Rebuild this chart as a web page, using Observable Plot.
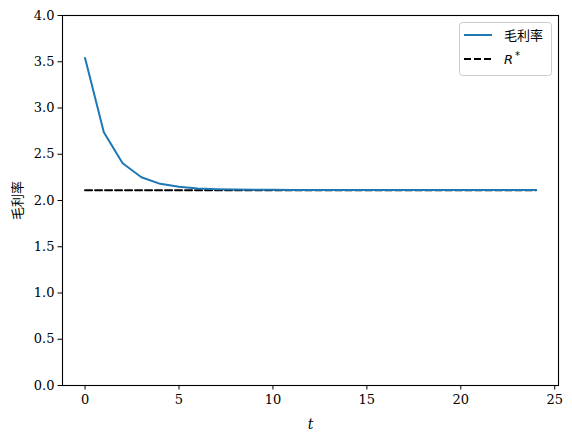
<!DOCTYPE html>
<html><head><meta charset="utf-8">
<script src="https://cdn.jsdelivr.net/npm/d3@7"></script>
<script src="https://cdn.jsdelivr.net/npm/@observablehq/plot@0.6"></script>
<style>
body{margin:0;background:#fff}
#wrap{position:relative;width:572px;height:442px}
#legend{position:absolute;left:0;top:0;pointer-events:none}
</style></head><body><div id="wrap"></div>
<script>
const periods = [0,1,2,3,4,5,6,7,8,9,10,11,12,13,14,15,16,17,18,19,20,21,22,23,24];
const grossMargin = [3.54,2.738,2.403,2.252,2.18,2.148,2.13,2.122,2.118,2.116,2.115,2.114,2.114,2.114,2.114,2.114,2.114,2.114,2.114,2.114,2.114,2.114,2.114,2.114,2.114];
const rStar = 2.11;
const xTicks = [0,5,10,15,20,25];
const yTicks = [0,0.5,1,1.5,2,2.5,3,3.5,4];
const seriesNames = ["毛利率","R*"];

const data = periods.map((t,i)=>({t, v: grossMargin[i]}));
const rData = periods.map(t=>({t, v: rStar}));

const chart = Plot.plot({
  width:572, height:442, marginLeft:62, marginRight:14, marginTop:15, marginBottom:57,
  style:{fontFamily:"DejaVu Serif", fontSize:"13px", color:"#000", background:"#fff"},
  x:{domain:[-1.2,25.2]},
  y:{domain:[0,4]},
  marks:[
    Plot.axisX({ticks:xTicks, tickSize:4.5, tickPadding:5, tickFormat:d=>String(d), label:null}),
    Plot.axisY({ticks:yTicks, tickSize:4.5, tickPadding:3.5, tickFormat:d=>d.toFixed(1), label:null}),
    Plot.line(rData, {x:"t", y:"v", stroke:"#000", strokeWidth:2, strokeDasharray:"7,3"}),
    Plot.line(data, {x:"t", y:"v", stroke:"#1f77b4", strokeWidth:2}),
    Plot.frame({stroke:"#000", strokeWidth:1.1}),
    Plot.text(["t"], {frameAnchor:"bottom", dy:43, fontStyle:"italic", fontSize:14}),
    Plot.text([seriesNames[0]], {frameAnchor:"left", textAnchor:"middle", dx:-45, rotate:-90, fontSize:13, fontFamily:"Noto Sans CJK SC"})
  ]
});
const wrap = document.getElementById("wrap");
wrap.appendChild(chart);

const lg = d3.select(wrap).append("svg").attr("id","legend").attr("width",572).attr("height",442);
lg.append("rect").attr("x",459.5).attr("y",22.5).attr("width",92).attr("height",53).attr("rx",3)
  .attr("fill","rgba(255,255,255,0.8)").attr("stroke","#cccccc");
lg.append("line").attr("x1",464).attr("x2",492).attr("y1",35).attr("y2",35).attr("stroke","#1f77b4").attr("stroke-width",2);
lg.append("text").attr("x",504).attr("y",39.5).attr("font-family","Noto Sans CJK SC").attr("font-size",13).text(seriesNames[0]);
lg.append("line").attr("x1",464).attr("x2",492).attr("y1",59).attr("y2",59).attr("stroke","#000").attr("stroke-width",2).attr("stroke-dasharray","7,3");
const rt = lg.append("text").attr("x",504).attr("y",64).attr("font-family","DejaVu Sans").attr("font-size",13);
rt.append("tspan").attr("font-style","italic").text("R");
rt.append("tspan").attr("dy",-5).attr("dx",2).attr("font-size",10).text("*");
</script>
</body></html>
